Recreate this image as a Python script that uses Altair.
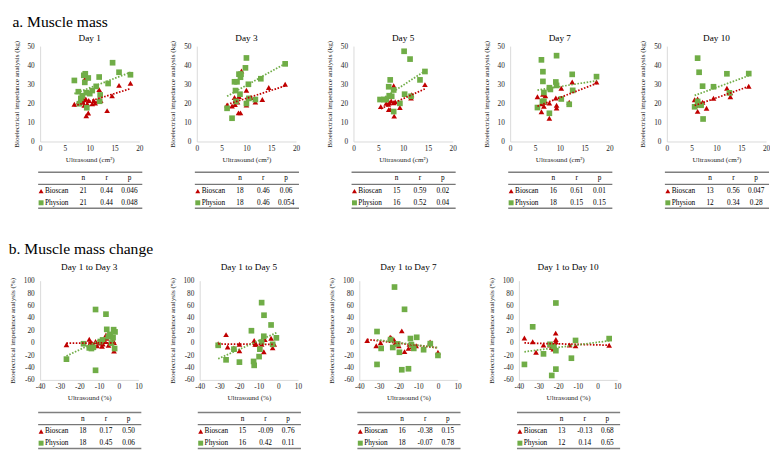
import altair as alt
import pandas as pd

FONT = "Liberation Serif"
RED = "#C00000"
GREEN = "#70AD47"
SERIES = ["Bioscan", "Physion"]

# ---------------- a. Muscle mass (kg vs cm²) ----------------
top_titles = ["Day 1", "Day 3", "Day 5", "Day 7", "Day 10"]

d1_bio_x = [6.9, 7.8, 8.6, 8.8, 8.9, 9.0, 9.2, 9.3, 9.5, 9.7, 9.8, 10.5, 10.8, 11.1, 11.7, 11.9, 12.2, 13.5, 14.5, 15.9, 18.2]
d1_bio_y = [19.5, 20.8, 20.6, 21.9, 19.0, 32.7, 22.3, 13.5, 19.8, 14.9, 21.5, 19.8, 21.5, 20.1, 21.5, 27.2, 21.5, 16.2, 23.9, 29.4, 30.5]
d1_phy_x = [6.9, 7.7, 7.9, 8.2, 8.5, 8.8, 9.0, 9.1, 9.3, 9.4, 9.7, 10.0, 10.5, 11.3, 11.9, 12.0, 12.1, 13.7, 14.6, 15.9, 18.2]
d1_phy_y = [32.0, 26.1, 19.8, 22.6, 24.0, 34.7, 31.0, 35.5, 25.6, 17.7, 33.3, 25.1, 26.7, 28.9, 33.8, 21.1, 24.4, 30.4, 41.3, 36.3, 35.0]

d3_bio_x = [6.1, 7.1, 7.6, 7.7, 7.9, 8.2, 8.4, 8.5, 8.8, 9.0, 10.0, 10.0, 10.4, 10.9, 11.8, 13.2, 14.5, 17.8]
d3_bio_y = [19.1, 18.6, 23.1, 19.4, 21.8, 20.7, 15.0, 23.6, 15.0, 37.0, 26.9, 19.1, 22.6, 23.1, 20.7, 22.0, 28.3, 30.0]
d3_phy_x = [6.1, 7.1, 7.6, 7.8, 7.9, 8.1, 8.5, 8.7, 8.8, 8.9, 9.8, 10.0, 10.0, 10.4, 10.5, 11.8, 12.9, 17.8]
d3_phy_y = [17.4, 12.2, 31.3, 26.7, 21.0, 31.3, 35.3, 24.8, 33.7, 35.3, 38.6, 43.8, 19.9, 30.0, 22.6, 22.0, 32.9, 40.7]

d5_bio_x = [5.5, 6.6, 7.0, 7.1, 7.2, 7.4, 7.6, 8.1, 8.1, 8.2, 8.4, 9.35, 11.6, 11.7, 14.4]
d5_bio_y = [18.3, 20.0, 19.5, 16.7, 20.3, 16.7, 21.2, 20.3, 29.2, 13.3, 20.8, 17.8, 22.8, 24.5, 29.8]
d5_phy_x = [5.35, 6.1, 6.6, 7.1, 7.2, 7.4, 7.7, 8.1, 8.1, 9.35, 10.2, 10.3, 11.4, 11.6, 13.4, 14.4]
d5_phy_y = [22.0, 22.0, 22.0, 28.7, 24.0, 32.3, 23.7, 27.0, 15.7, 20.0, 47.3, 24.8, 43.2, 23.7, 32.3, 36.7]

d7_bio_x = [5.5, 6.3, 6.3, 6.6, 6.8, 6.9, 7.1, 7.9, 7.9, 9.2, 9.35, 9.35, 10.3, 11.9, 12.5, 17.4]
d7_bio_y = [23.5, 19.8, 15.6, 24.8, 18.5, 20.5, 24.0, 20.1, 12.2, 22.8, 19.0, 17.6, 27.9, 20.6, 31.2, 31.2]
d7_phy_x = [5.5, 6.3, 6.5, 6.6, 6.6, 6.8, 6.8, 7.9, 7.9, 8.1, 9.2, 9.35, 9.35, 10.3, 11.9, 12.5, 12.6, 17.4]
d7_phy_y = [17.8, 42.8, 21.0, 36.6, 31.5, 25.7, 21.1, 28.2, 14.8, 27.3, 31.2, 45.0, 29.4, 22.3, 19.5, 35.2, 26.8, 34.0]

d10_bio_x = [5.6, 5.8, 6.2, 6.2, 6.5, 6.9, 7.2, 8.0, 9.4, 12.1, 12.8, 12.8, 16.5]
d10_bio_y = [21.9, 19.0, 22.3, 15.8, 19.4, 19.7, 20.6, 17.4, 22.7, 27.9, 23.5, 25.5, 29.0]
d10_phy_x = [5.6, 6.2, 6.2, 6.5, 6.5, 6.9, 7.2, 7.3, 9.4, 12.1, 12.6, 16.5]
d10_phy_y = [18.2, 43.7, 21.0, 36.3, 19.4, 19.0, 29.0, 11.8, 28.7, 35.5, 25.5, 35.6]

top_bio_n = [21, 18, 15, 16, 13]
top_bio_r = ["0.44", "0.46", "0.59", "0.61", "0.56"]
top_bio_p = ["0.046", "0.06", "0.02", "0.01", "0.047"]
top_phy_n = [21, 18, 16, 18, 12]
top_phy_r = ["0.44", "0.46", "0.52", "0.15", "0.34"]
top_phy_p = ["0.048", "0.054", "0.04", "0.15", "0.28"]

# ---------------- b. Muscle mass change (%) ----------------
bot_titles = ["Day 1 to Day 3", "Day 1 to Day 5", "Day 1 to Day 7", "Day 1 to Day 10"]

c3_bio_x = [-26.6, -15.0, -14.5, -13.7, -12.9, -11.8, -11.0, -9.7, -8.5, -8.1, -6.9, -6.5, -6.1, -5.2, -4.2, -2.9, -2.4, -2.4]
c3_bio_y = [-3.2, 5.5, -0.6, -0.6, -3.2, 1.9, -4.8, -0.6, -5.8, -2.2, 1.9, 12.3, 7.1, -4.2, -0.6, 3.5, 0.4, -13.5]
c3_phy_x = [-26.6, -17.9, -15.0, -13.9, -12.9, -11.8, -11.8, -9.4, -8.2, -6.5, -6.1, -5.3, -4.5, -3.7, -2.9, -2.6, -2.1, -1.9]
c3_phy_y = [-26.5, -1.7, -8.4, -9.4, -7.4, 53.5, -44.5, 1.9, 4.5, 46.0, 21.5, 9.7, 13.3, -0.6, 8.1, 21.0, -9.4, 17.4]

c5_bio_x = [-30.6, -26.6, -25.8, -22.6, -19.8, -19.8, -12.3, -11.8, -11.3, -8.5, -7.4, -6.9, -3.7, -2.9, -2.1]
c5_bio_y = [-1.6, 13.0, -6.8, -8.3, -2.6, -13.0, 3.6, -2.6, -2.6, -2.6, -14.6, 5.2, 7.3, -8.3, -2.6]
c5_phy_x = [-30.6, -26.6, -22.6, -19.8, -13.7, -12.6, -12.3, -9.8, -9.4, -8.5, -8.5, -7.3, -7.4, -3.7, -2.9, -1.0]
c5_phy_y = [-4.2, -27.6, -10.4, -31.3, 19.3, -30.2, -36.5, -22.4, -10.4, 64.6, 1.0, 44.3, 10.4, 28.6, -2.6, 7.8]

c7_bio_x = [-36.0, -31.4, -29.2, -24.3, -23.8, -22.4, -22.0, -19.9, -18.4, -17.0, -15.0, -14.5, -13.0, -11.1, -4.0, 0.0]
c7_bio_y = [3.5, -5.0, 0.0, 9.0, 7.7, 5.0, -2.0, -5.0, 19.0, -14.4, -9.2, -2.6, -6.0, -5.0, 1.0, -15.4]
c7_phy_x = [-31.0, -31.0, -28.9, -24.1, -23.0, -22.1, -20.5, -19.6, -18.4, -17.0, -15.0, -14.0, -13.5, -12.3, -10.8, -7.3, -3.9, 0.0]
c7_phy_y = [-35.0, 18.0, -9.2, 5.0, -7.7, 89.7, -2.0, -15.4, -43.6, 53.8, -42.0, 6.7, -3.0, -9.2, 8.7, -11.3, -1.5, -20.5]

c10_bio_x = [-37.2, -33.0, -31.3, -27.5, -24.2, -23.3, -22.5, -21.3, -21.2, -21.2, -14.2, -11.2, 5.9]
c10_bio_y = [7.7, 1.5, -15.4, -3.6, -3.6, -7.7, -10.3, 15.4, 5.1, 1.5, -3.6, -5.1, -4.0]
c10_phy_x = [-37.2, -33.0, -27.5, -24.2, -23.3, -22.2, -21.2, -21.2, -21.2, -13.3, -11.2, 5.9]
c10_phy_y = [-35.0, 25.6, -18.0, -2.6, -52.8, -6.0, 64.0, -12.8, -42.6, -25.0, 3.6, 6.6]

bot_bio_n = [18, 15, 16, 13]
bot_bio_r = ["0.17", "-0.09", "-0.38", "-0.13"]
bot_bio_p = ["0.50", "0.76", "0.15", "0.68"]
bot_phy_n = [18, 16, 18, 12]
bot_phy_r = ["0.45", "0.42", "-0.07", "0.14"]
bot_phy_p = ["0.06", "0.11", "0.78", "0.65"]


def make_panel(title, bx, by, px, py, stats, xdom, ydom, xvals, yvals,
               xtitle, ytitle, w, h, title_off, tshift):
    df = pd.DataFrame({
        "x": list(bx) + list(px),
        "y": list(by) + list(py),
        "series": ["Bioscan"] * len(bx) + ["Physion"] * len(px),
    })
    color = alt.Color("series:N", scale=alt.Scale(domain=SERIES, range=[RED, GREEN]), legend=None)
    shape = alt.Shape("series:N", scale=alt.Scale(domain=SERIES, range=["triangle-up", "square"]), legend=None)
    X = alt.X("x:Q", scale=alt.Scale(domain=xdom, nice=False, zero=False),
              axis=alt.Axis(values=xvals, title=xtitle, labelExpr="'' + datum.value",
                            labelFlush=False, labelOverlap=False))
    Y = alt.Y("y:Q", scale=alt.Scale(domain=ydom, nice=False, zero=False),
              axis=alt.Axis(values=yvals, title=ytitle, labelExpr="'' + datum.value",
                            labelFlush=False, labelOverlap=False))
    pts = alt.Chart(df).mark_point(filled=True, opacity=1, size=34).encode(
        x=X, y=Y, color=color, shape=shape)
    trend = alt.Chart(df).transform_regression("x", "y", groupby=["series"]).mark_line(
        strokeDash=[1.6, 1.6], strokeWidth=1.8).encode(x=X, y=Y, color=color)
    layers = [pts, trend]

    t0 = h + tshift
    one = alt.Data(values=[{"k": 0}])
    for yo, col, sw in [(t0 + 29.5, "#7F7F7F", 1.5), (t0 + 42, "#262626", 0.8), (t0 + 66.5, "#7F7F7F", 1.5)]:
        layers.append(alt.Chart(one).mark_rule(color=col, strokeWidth=sw).encode(
            x=alt.value(-2), x2=alt.value(w + 3), y=alt.value(yo)))
    col_x = {"n": 0.435 * w, "r": 0.67 * w, "p": 0.9 * w}
    for k, xx in col_x.items():
        layers.append(alt.Chart(one).mark_text(text=k, font=FONT, fontSize=7.5, color="black",
                                               baseline="middle").encode(
            x=alt.value(xx), y=alt.value(t0 + 36)))
    for s, yy, shp, clr in [("Bioscan", t0 + 49, "triangle-up", RED), ("Physion", t0 + 61, "square", GREEN)]:
        n, r, p = stats[s]
        rowdf = pd.DataFrame({"series": [s], "n": [str(n)], "r": [r], "p": [p]})
        layers.append(alt.Chart(rowdf).mark_point(filled=True, opacity=1, shape=shp, color=clr,
                                                  size=26).encode(x=alt.value(1), y=alt.value(yy)))
        layers.append(alt.Chart(rowdf).mark_text(font=FONT, fontSize=7.5, color="black", align="left",
                                                 baseline="middle").encode(
            x=alt.value(5), y=alt.value(yy), text="series:N"))
        for k, xx in col_x.items():
            layers.append(alt.Chart(rowdf).mark_text(font=FONT, fontSize=7.5, color="black",
                                                     baseline="middle").encode(
                x=alt.value(xx), y=alt.value(yy), text=f"{k}:N"))
    return alt.layer(*layers).properties(
        width=w, height=h,
        title=alt.TitleParams(title, font=FONT, fontSize=9.5, fontWeight="normal", color="black",
                              offset=title_off, anchor="middle", frame="group"))


top_data = [(d1_bio_x, d1_bio_y, d1_phy_x, d1_phy_y), (d3_bio_x, d3_bio_y, d3_phy_x, d3_phy_y),
            (d5_bio_x, d5_bio_y, d5_phy_x, d5_phy_y), (d7_bio_x, d7_bio_y, d7_phy_x, d7_phy_y),
            (d10_bio_x, d10_bio_y, d10_phy_x, d10_phy_y)]
bot_data = [(c3_bio_x, c3_bio_y, c3_phy_x, c3_phy_y), (c5_bio_x, c5_bio_y, c5_phy_x, c5_phy_y),
            (c7_bio_x, c7_bio_y, c7_phy_x, c7_phy_y), (c10_bio_x, c10_bio_y, c10_phy_x, c10_phy_y)]

top_panels = []
for i, t in enumerate(top_titles):
    bx, by, px, py = top_data[i]
    stats = {"Bioscan": (top_bio_n[i], top_bio_r[i], top_bio_p[i]),
             "Physion": (top_phy_n[i], top_phy_r[i], top_phy_p[i])}
    top_panels.append(make_panel(t, bx, by, px, py, stats, [0, 20], [0, 50],
                                 [0, 5, 10, 15, 20], [0, 10, 20, 30, 40, 50],
                                 "Ultrasound (cm²)", "Bioelectrical impedance analysis (kg)",
                                 102, 98, -2, 2))

bot_panels = []
for i, t in enumerate(bot_titles):
    bx, by, px, py = bot_data[i]
    stats = {"Bioscan": (bot_bio_n[i], bot_bio_r[i], bot_bio_p[i]),
             "Physion": (bot_phy_n[i], bot_phy_r[i], bot_phy_p[i])}
    bot_panels.append(make_panel(t, bx, by, px, py, stats, [-40, 10], [-60, 100],
                                 [-40, -30, -20, -10, 0, 10], [-60, -40, -20, 0, 20, 40, 60, 80, 100],
                                 "Ultrasound (%)", "Bioelectrical impedance analysis (%)",
                                 101, 102, 5, 4))

row_a = alt.hconcat(*top_panels, spacing=26).properties(
    title=alt.TitleParams("a. Muscle mass", font=FONT, fontSize=16, fontWeight="normal",
                          color="black", anchor="start", offset=3))
row_b = alt.hconcat(*bot_panels, spacing=26).properties(
    title=alt.TitleParams("b. Muscle mass change", font=FONT, fontSize=16, fontWeight="normal",
                          color="black", anchor="start", offset=6))

chart = alt.vconcat(row_a, row_b, spacing=32, padding=0).configure_view(stroke=None).configure_axis(
    domainColor="#D9D9D9", domainWidth=1, ticks=False, grid=False,
    labelFont=FONT, labelFontSize=7.5, labelColor="#262626",
    titleFont=FONT, titleFontSize=7.3, titleFontWeight="normal", titleColor="#262626",
).configure_axisY(labelPadding=6, titlePadding=7).configure_axisX(labelPadding=3, titlePadding=4
).configure_title(font=FONT, fontWeight="normal")

chart.save("out.html", embed_options={"renderer": "svg", "actions": False})
